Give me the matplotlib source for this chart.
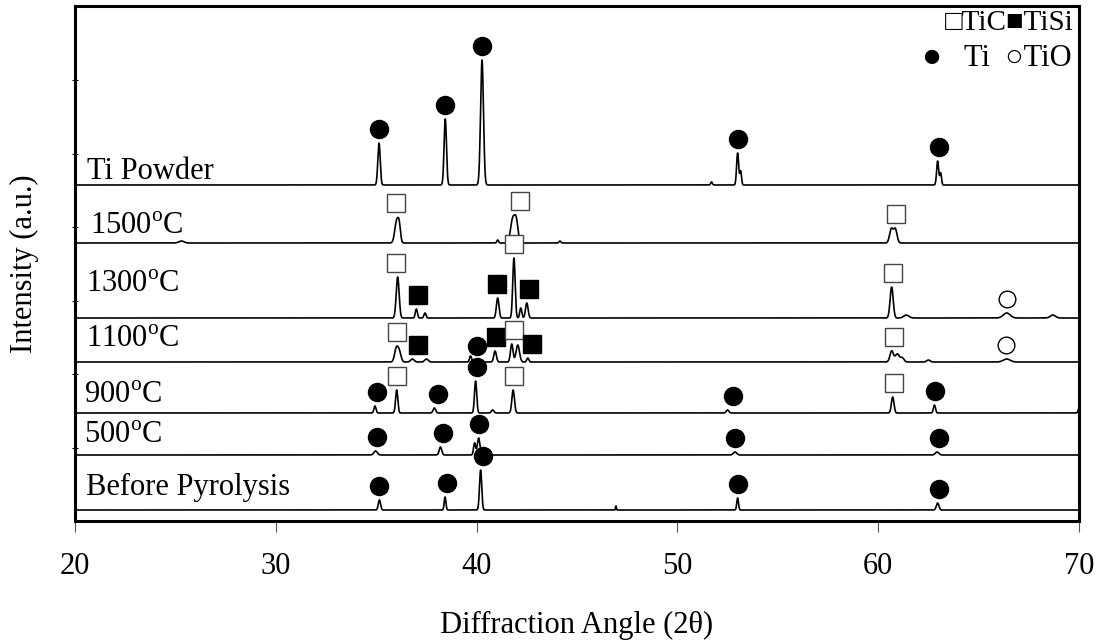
import numpy as np
import matplotlib.pyplot as plt

plt.rcParams["font.family"] = ["Liberation Serif", "DejaVu Serif"]
plt.rcParams["mathtext.fontset"] = "custom"
plt.rcParams["mathtext.rm"] = "Liberation Serif"

# ─────────────────────────────────────────────
# DATA  (peak angle 2θ, peak height a.u., FWHM in degrees)
# ─────────────────────────────────────────────
trace_names = ["Ti Powder", "1500$^{\\rm o}$C", "1300$^{\\rm o}$C", "1100$^{\\rm o}$C",
               "900$^{\\rm o}$C", "500$^{\\rm o}$C", "Before Pyrolysis"]

ti_powder_peaks = [(35.14, 42, 0.14), (38.44, 66, 0.14), (40.27, 125, 0.17), (51.7, 3, 0.10),
                   (53.00, 32, 0.12), (53.15, 14, 0.10), (62.96, 24, 0.12), (63.11, 12, 0.10)]
t1500_peaks = [(25.3, 2, 0.30), (36.02, 22, 0.22), (36.15, 14, 0.15), (41.05, 3, 0.10),
               (41.80, 24, 0.25), (41.98, 20, 0.20), (44.15, 2, 0.10), (60.65, 14, 0.20),
               (60.85, 14, 0.20)]
t1300_peaks = [(36.07, 41, 0.17), (37.00, 9, 0.12), (37.43, 5, 0.12), (41.05, 20, 0.15),
               (41.86, 60, 0.14), (42.20, 10, 0.12), (42.50, 15, 0.15), (60.67, 31, 0.18),
               (61.40, 3, 0.30), (66.40, 5, 0.40), (68.70, 3, 0.30)]
t1100_peaks = [(36.00, 13, 0.20), (36.15, 10, 0.20), (36.80, 3, 0.20), (37.50, 3, 0.20),
               (39.70, 6, 0.12), (40.92, 11, 0.15), (41.75, 18, 0.15), (42.05, 17, 0.20),
               (42.55, 4, 0.12), (60.67, 11, 0.20), (60.95, 8, 0.25), (61.20, 4, 0.20),
               (62.50, 2, 0.20), (66.40, 3, 0.40)]
t900_peaks = [(34.94, 7, 0.12), (36.02, 23, 0.13), (37.90, 5, 0.15), (39.95, 32, 0.13),
              (40.80, 3, 0.15), (41.82, 23, 0.15), (52.50, 3, 0.15), (60.72, 16, 0.15),
              (62.80, 8, 0.12), (70.00, 5, 0.10)]
t500_peaks = [(34.97, 4, 0.20), (38.20, 8, 0.15), (39.90, 12, 0.12), (40.10, 17, 0.15),
              (52.87, 3, 0.20), (62.93, 3, 0.20)]
before_peaks = [(35.16, 10, 0.13), (38.43, 13, 0.10), (40.20, 40, 0.13), (46.94, 4, 0.05),
                (53.00, 12, 0.10), (62.96, 7, 0.15)]

# phase annotations: (2θ, phase)
ti_powder_phases = [(35.14, "Ti"), (38.43, "Ti"), (40.27, "Ti"), (53.0, "Ti"), (63.03, "Ti")]
t1500_phases = [(35.99, "TiC"), (42.16, "TiC"), (60.89, "TiC")]
t1300_phases = [(35.99, "TiC"), (37.08, "TiSi"), (41.02, "TiSi"), (41.86, "TiC"),
                (42.60, "TiSi"), (60.74, "TiC"), (66.41, "TiO")]
t1100_phases = [(36.04, "TiC"), (37.08, "TiSi"), (40.02, "Ti"), (40.97, "TiSi"),
                (41.86, "TiC"), (42.76, "TiSi"), (60.79, "TiC"), (66.36, "TiO")]
t900_phases = [(35.04, "Ti"), (36.04, "TiC"), (38.08, "Ti"), (40.02, "Ti"), (41.86, "TiC"),
               (52.77, "Ti"), (60.79, "TiC"), (62.83, "Ti")]
t500_phases = [(35.04, "Ti"), (38.33, "Ti"), (40.12, "Ti"), (52.87, "Ti"), (63.03, "Ti")]
before_phases = [(35.14, "Ti"), (38.53, "Ti"), (40.32, "Ti"), (53.02, "Ti"), (63.03, "Ti")]

all_peaks = [ti_powder_peaks, t1500_peaks, t1300_peaks, t1100_peaks,
             t900_peaks, t500_peaks, before_peaks]
all_phases = [ti_powder_phases, t1500_phases, t1300_phases, t1100_phases,
              t900_phases, t500_phases, before_phases]

# ─────────────────────────────────────────────
# LAYOUT
# ─────────────────────────────────────────────
offsets = [336, 278, 203, 159, 108, 66, 11]
label_x = [20.6, 20.75, 20.55, 20.55, 20.45, 20.45, 20.55]
label_dy = [6, 9, 26, 15, 10, 12, 15]
MARKER_GAP = 14

phase_style = {
    "TiC":  dict(marker="s", mfc="white", mec="#444444", ms=12.5, mew=1.0),
    "TiSi": dict(marker="s", mfc="black", mec="black", ms=12.5, mew=1.0),
    "Ti":   dict(marker="o", mfc="black", mec="black", ms=13, mew=1.0),
    "TiO":  dict(marker="o", mfc="white", mec="black", ms=12, mew=1.0),
}

two_theta = np.arange(20, 70.0001, 0.01)


def pattern(peaks):
    y = np.zeros_like(two_theta)
    for c, h, w in peaks:
        y += h * np.exp(-4 * np.log(2) * (two_theta - c) ** 2 / w ** 2)
    return y


fig = plt.figure(figsize=(11.04, 6.44), dpi=100)
ax = fig.add_axes([75 / 1104, 123 / 644, 1004 / 1104, 515 / 644])

for name, peaks, phases, off, lx, ldy in zip(trace_names, all_peaks, all_phases,
                                              offsets, label_x, label_dy):
    y = pattern(peaks) + off
    ax.plot(two_theta, y, color="black", lw=1.2)
    ax.text(lx, off + ldy, name, fontsize=22, va="baseline", ha="left")
    for ang, ph in phases:
        win = np.abs(two_theta - ang) < 0.25
        ax.plot(ang, y[win].max() + MARKER_GAP, linestyle="none", **phase_style[ph])

# phase key, top right
ax.text(0.995, 0.953, "\u25a1TiC\u25a0TiSi", transform=ax.transAxes,
        ha="right", va="baseline", fontsize=21)
ax.text(0.993, 0.8835, "Ti  \u25cbTiO", transform=ax.transAxes,
        ha="right", va="baseline", fontsize=22)
ax.text(0.843, 0.8835, "\u25cf", transform=ax.transAxes,
        ha="left", va="baseline", fontsize=24)

ax.set_xlim(20, 70)
ax.set_ylim(0, 515)
ax.set_xticks([20, 30, 40, 50, 60, 70])
ax.set_yticks([73.5, 147, 220.5, 294, 367.5, 441])
ax.set_yticklabels([])
ax.tick_params(axis="x", direction="out", length=8, width=0.8, labelsize=22, pad=14, color="#555555")
ax.tick_params(axis="y", direction="inout", length=5, width=0.8)
for s in ax.spines.values():
    s.set_linewidth(2.2)

ax.set_xlabel("Diffraction Angle (2\u03b8)", fontsize=22, labelpad=22)
ax.set_ylabel("Intensity (a.u.)", fontsize=22, labelpad=20)

fig.savefig("out.png", dpi=100)
